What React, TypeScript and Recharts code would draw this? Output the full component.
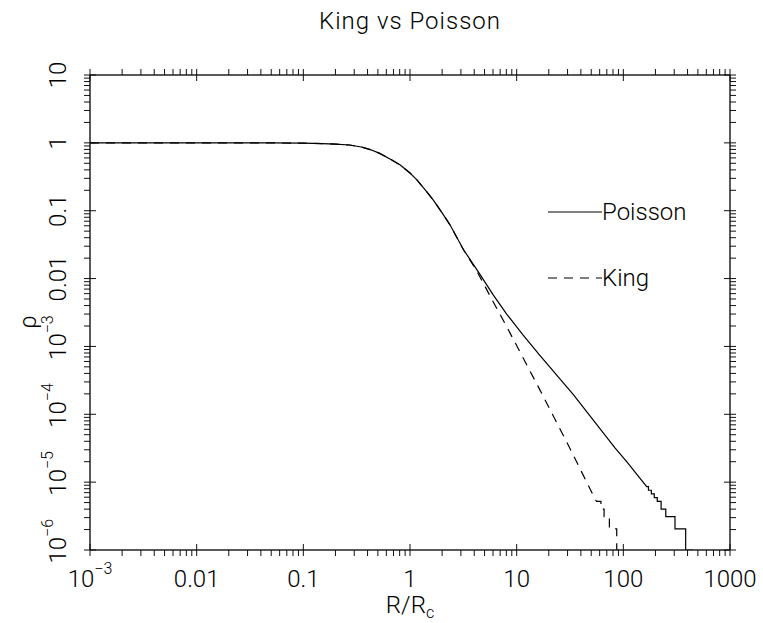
import { LineChart, Line, XAxis, YAxis, Legend } from "recharts"

// values (log-log)
const X_MAJOR = [0.001, 0.01, 0.1, 1, 10, 100, 1000]
const X_LABELS = ["10^−3", "0.01", "0.1", "1", "10", "100", "1000"]
const Y_MAJOR = [1e-6, 1e-5, 1e-4, 1e-3, 0.01, 0.1, 1, 10]
const Y_LABELS = ["10^−6", "10^−5", "10^−4", "10^−3", "0.01", "0.1", "1", "10"]
const LEGEND_ORDER = ["Poisson", "King"]

const POISSON_R = [
  0.001, 0.01, 0.05, 0.1, 0.15, 0.2, 0.27, 0.35, 0.43, 0.52, 0.65, 0.81, 1.0, 1.16, 1.4, 1.65, 2.0, 2.37,
  3.16, 4.53, 6, 8.06, 11.5, 16.5, 34, 83.5, 107.5, 165.5, 172, 172, 183, 183, 195, 195, 208, 208, 226, 226,
  250, 250, 305, 305, 384, 384, 450,
]
const POISSON_RHO = [
  1, 1, 0.998, 0.99, 0.975, 0.955, 0.93, 0.87, 0.79, 0.7, 0.58, 0.47, 0.36, 0.285, 0.2, 0.144, 0.093, 0.062,
  0.027, 0.0115, 0.0058, 0.003, 0.00147, 7.4e-4, 1.95e-4, 3.2e-5, 2.0e-5, 8.6e-6, 8.6e-6, 7.6e-6, 7.6e-6,
  6.7e-6, 6.7e-6, 5.9e-6, 5.9e-6, 5.2e-6, 5.2e-6, 4e-6, 4e-6, 3.1e-6, 3.1e-6, 2.05e-6, 2.05e-6, 1e-6, 1e-6,
]

const KING_R = [
  0.001, 0.01, 0.05, 0.1, 0.15, 0.2, 0.27, 0.35, 0.43, 0.52, 0.65, 0.81, 1.0, 1.16, 1.4, 1.65, 2.0, 2.37,
  3.16, 4.22, 6, 8.06, 16.5, 30.5, 50.8, 56, 61.7, 61.7, 66, 66, 74, 74, 86.7, 86.7, 100,
]
const KING_RHO = [
  1, 1, 0.998, 0.99, 0.975, 0.955, 0.93, 0.87, 0.79, 0.7, 0.58, 0.47, 0.36, 0.285, 0.2, 0.144, 0.093, 0.062,
  0.0268, 0.013, 0.0046, 0.00196, 2.29e-4, 3.5e-5, 7e-6, 5.2e-6, 5.2e-6, 4e-6, 4e-6, 3.1e-6, 3.1e-6,
  2.05e-6, 2.05e-6, 1e-6, 1e-6,
]

const poisson = POISSON_R.map((r, i) => ({ r, rho: POISSON_RHO[i] }))
const king = KING_R.map((r, i) => ({ r, rho: KING_RHO[i] }))

const FONT = "Roboto, 'DejaVu Sans', sans-serif"

function withMinor(majors: number[]) {
  const out: number[] = []
  majors.forEach((m, i) => {
    out.push(m)
    if (i < majors.length - 1) for (let k = 2; k < 10; k++) out.push(m * k)
  })
  return out
}

const X_TICKS = withMinor(X_MAJOR)
const Y_TICKS = withMinor(Y_MAJOR)

function majorIndex(majors: number[], v: number) {
  return majors.findIndex((m) => Math.abs(m - v) / m < 1e-6)
}

function splitLabel(s: string) {
  const [base, sup] = s.split("^")
  return { base, sup }
}

type Side = "bottom" | "top" | "left" | "right"

function Tick(props: any) {
  const { x, y, payload, side } = props as { x: number; y: number; payload: { value: number }; side: Side }
  const horiz = side === "bottom" || side === "top"
  const idx = majorIndex(horiz ? X_MAJOR : Y_MAJOR, payload.value)
  const len = idx >= 0 ? 12 : 6
  const stroke = "#111"
  let line
  if (side === "bottom") line = <line x1={x} y1={y} x2={x} y2={y - len} stroke={stroke} />
  else if (side === "top") line = <line x1={x} y1={y} x2={x} y2={y + len} stroke={stroke} />
  else if (side === "left") line = <line x1={x} y1={y} x2={x + len} y2={y} stroke={stroke} />
  else line = <line x1={x} y1={y} x2={x - len} y2={y} stroke={stroke} />

  let label = null
  if (idx >= 0 && side === "bottom") {
    const { base, sup } = splitLabel(X_LABELS[idx])
    label = (
      <text x={x} y={y + 31} textAnchor="middle" fontFamily={FONT} fontWeight={300} fontSize={24} fill="#000">
        {base}
        {sup && <tspan dy={-13} fontSize={16}>{sup}</tspan>}
      </text>
    )
  }
  if (idx >= 0 && side === "left") {
    const { base, sup } = splitLabel(Y_LABELS[idx])
    label = (
      <g transform={`translate(${x - 18},${y}) rotate(-90)`}>
        <text x={sup ? -13.5 : 0} y={0} textAnchor={sup ? "start" : "middle"} fontFamily={FONT} fontWeight={300} fontSize={24} fill="#000">
          {base}
          {sup && <tspan dy={-13} fontSize={16}>{sup}</tspan>}
        </text>
      </g>
    )
  }
  return (
    <g>
      {line}
      {label}
    </g>
  )
}

function LegendBox({ payload }: any) {
  const items = [...(payload ?? [])].sort(
    (a: any, b: any) => LEGEND_ORDER.indexOf(a.value) - LEGEND_ORDER.indexOf(b.value)
  )
  return (
    <div style={{ fontFamily: FONT, fontWeight: 300, fontSize: 24, color: "#000" }}>
      {items.map((e: any, i: number) => (
        <div key={i} style={{ display: "flex", alignItems: "center", height: 24, marginBottom: 42, lineHeight: "24px" }}>
          <svg width={54} height={24} style={{ display: "block" }}>
            <line x1={0} y1={12} x2={54} y2={12} stroke="#000" strokeWidth={1.2} strokeDasharray={e.payload?.strokeDasharray} />
          </svg>
          <span>{e.value}</span>
        </div>
      ))}
    </div>
  )
}

const axisLine = { stroke: "#222", strokeWidth: 1.5 }

export default function App() {
  return (
    <div style={{ position: "absolute", left: 0, top: 0, width: 763, height: 623, background: "#fff" }}>
      <div
        style={{
          position: "absolute", left: 0, top: 9, width: 820, textAlign: "center",
          fontFamily: FONT, fontWeight: 300, fontSize: 24, lineHeight: "24px", letterSpacing: 1,
        }}
      >
        King vs Poisson
      </div>
      <LineChart width={763} height={623} margin={{ top: 45, right: 23, bottom: 33, left: 30 }}>
        <XAxis
          xAxisId="b" dataKey="r" type="number" scale="log" domain={[1e-3, 1000]} allowDataOverflow
          ticks={X_TICKS} interval={0} tickLine={false} tickMargin={0} height={40} axisLine={axisLine}
          tick={(p: any) => <Tick {...p} side="bottom" />}
        />
        <XAxis
          xAxisId="t" orientation="top" dataKey="r" type="number" scale="log" domain={[1e-3, 1000]} allowDataOverflow
          ticks={X_TICKS} interval={0} tickLine={false} tickMargin={0} height={30} axisLine={axisLine}
          tick={(p: any) => <Tick {...p} side="top" />}
        />
        <YAxis
          yAxisId="l" type="number" scale="log" domain={[1e-6, 10]} allowDataOverflow
          ticks={Y_TICKS} interval={0} tickLine={false} tickMargin={0} width={60} axisLine={axisLine}
          tick={(p: any) => <Tick {...p} side="left" />}
        />
        <YAxis
          yAxisId="r" orientation="right" type="number" scale="log" domain={[1e-6, 10]} allowDataOverflow
          ticks={Y_TICKS} interval={0} tickLine={false} tickMargin={0} width={10} axisLine={axisLine}
          tick={(p: any) => <Tick {...p} side="right" />}
        />
        <Line
          xAxisId="b" yAxisId="l" data={poisson} dataKey="rho" name="Poisson" type="linear"
          stroke="#000" strokeWidth={1.2} dot={false} isAnimationActive={false}
        />
        <Line
          xAxisId="b" yAxisId="l" data={king} dataKey="rho" name="King" type="linear"
          stroke="#000" strokeWidth={1.2} strokeDasharray="9 7" dot={false} isAnimationActive={false}
        />
        <Legend
          layout="vertical" align="center" verticalAlign="middle"
          wrapperStyle={{ position: "absolute", left: 548, top: 200, width: 200 }}
          content={<LegendBox />}
        />
      </LineChart>
      <div
        style={{
          position: "absolute", left: 360, top: 593, width: 100, height: 24, textAlign: "center",
          fontFamily: FONT, fontWeight: 300, fontSize: 24, lineHeight: "24px",
        }}
      >
        R/R<span style={{ fontSize: 16, position: "relative", top: 5 }}>c</span>
      </div>
      <div
        style={{
          position: "absolute", left: 8, top: 302, width: 40, height: 40, lineHeight: "40px", textAlign: "center",
          fontFamily: FONT, fontWeight: 300, fontSize: 24, transform: "rotate(-90deg)",
        }}
      >
        ρ
      </div>
    </div>
  )
}
